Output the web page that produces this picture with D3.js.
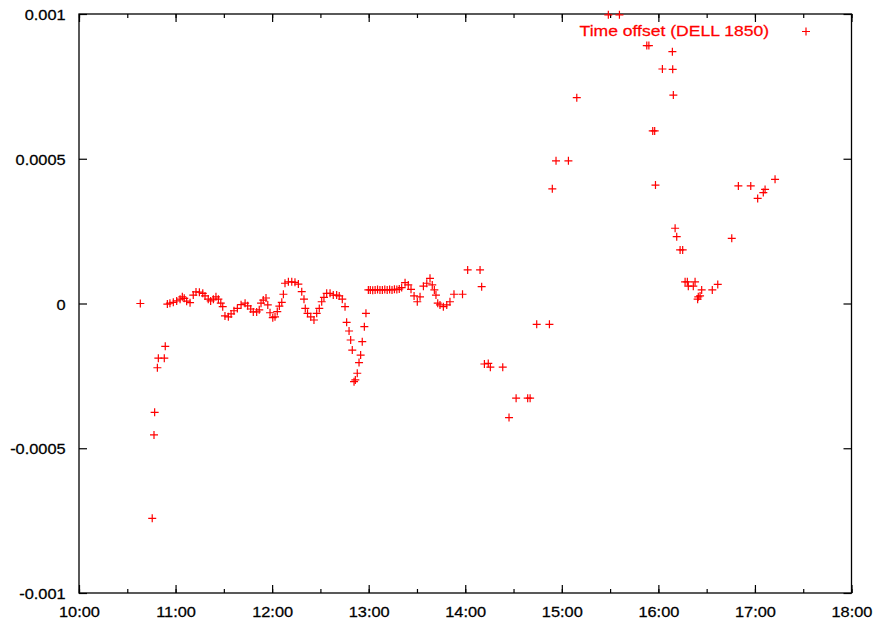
<!DOCTYPE html>
<html>
<head>
<meta charset="utf-8">
<script src="https://cdn.jsdelivr.net/npm/d3@7"></script>
<style>
  body { margin: 0; background: #fff; }
  text { font-family: "Liberation Sans", Arial, sans-serif; }
</style>
</head>
<body>
<svg id="mychart" width="878" height="626"></svg>
<script>
const margin = ({top: 14, right: 26.5, bottom: 33, left: 79})
const width = 878
const height = 626

const seriesName = "Time offset (DELL 1850)"

const times = [
  "10:38:06","10:45:30","10:46:36","10:47:00","10:48:42","10:49:18","10:53:00","10:53:36",
  "10:54:54","10:56:30","10:58:36","11:00:42","11:02:48","11:04:12","11:05:24","11:06:54",
  "11:09:00","11:11:00","11:12:42","11:14:48","11:16:54","11:18:18","11:20:18","11:21:48",
  "11:23:30","11:25:06","11:26:36","11:28:06","11:29:18","11:30:42","11:32:48","11:34:30",
  "11:36:18","11:38:24","11:40:42","11:43:12","11:44:48","11:46:42","11:48:18","11:50:24",
  "11:52:00","11:53:06","11:54:30","11:56:12","11:57:18","11:58:42","12:00:24","12:01:48",
  "12:03:12","12:04:30","12:06:00","12:07:00","12:08:00","12:10:06","12:12:12","12:14:12",
  "12:16:18","12:18:24","12:19:48","12:20:36","12:22:00","12:24:00","12:26:00","12:27:42",
  "12:29:18","12:30:48","12:32:12","12:33:54","12:36:00","12:38:00","12:40:06","12:41:42",
  "12:43:36","12:45:18","12:46:18","12:47:48","12:48:48","12:49:48","12:50:54","12:51:42",
  "12:52:54","12:54:00","12:55:00","12:56:00","12:57:18","12:58:18","12:59:48",
  "13:01:00","13:02:30","13:04:00","13:05:30","13:07:00","13:08:30","13:10:00","13:11:30",
  "13:13:00","13:14:30","13:16:00","13:17:30","13:19:00","13:20:30",
  "13:22:36","13:24:36","13:26:18","13:28:12","13:30:12","13:31:54","13:34:00","13:36:06",
  "13:38:06","13:39:30","13:40:48","13:41:48","13:42:54","13:44:18","13:46:24","13:48:30",
  "13:50:30","13:53:00","13:58:18",
  "14:01:30","14:09:12","14:10:12","14:11:54","14:14:18","14:15:36","14:23:18","14:27:12",
  "14:31:36","14:38:48","14:40:18","14:44:24","14:52:18","14:54:06","14:56:24","15:04:06",
  "15:09:18","15:28:54","15:35:48","15:52:48","15:54:06","15:56:30","15:57:42","15:58:12",
  "16:02:30","16:08:42","16:08:54","16:09:18","16:10:24","16:11:24","16:13:30","16:15:06",
  "16:16:36","16:18:00","16:18:36","16:21:42","16:22:48","16:24:24","16:24:48","16:25:54",
  "16:26:54","16:33:30","16:36:54","16:45:36","16:49:42","16:57:24","17:01:42","17:05:12",
  "17:06:18","17:12:30"
]

const offsets = [
  0.0, -0.000742, -0.000454, -0.000376, -0.000222, -0.000189, -0.000189, -0.000148,
  -0.000002, 0.000001, 0.000004, 0.000009, 0.000015, 0.000023, 0.000018, 0.000008,
  0.000003, 0.000029, 0.000040, 0.000039, 0.000035, 0.000026, 0.000015, 0.000009,
  0.000015, 0.000023, 0.000015, 0.000001, -0.000011, -0.000043, -0.000046, -0.000036,
  -0.000025, -0.000017, -0.000004, 0.000001, -0.000008, -0.000019, -0.000029, -0.000029,
  -0.000022, 0.000001, 0.000012, 0.000019, -0.000005, -0.000032, -0.000049, -0.000046,
  -0.000028, -0.000009, 0.000004, 0.000032, 0.000070, 0.000075, 0.000075, 0.000073,
  0.000067, 0.000041, 0.000015, -0.000017, -0.000034, -0.000046, -0.000057, -0.000034,
  -0.000017, 0.000006, 0.000021, 0.000035, 0.000035, 0.000029, 0.000029, 0.000026,
  0.000015, -0.000011, -0.000065, -0.000095, -0.000126, -0.000161, -0.000270, -0.000264,
  -0.000241, -0.000204, -0.000178, -0.000132, -0.000080, -0.000034, 0.000047,
  0.000047, 0.000046, 0.000047, 0.000048, 0.000047, 0.000047, 0.000048, 0.000047,
  0.000048, 0.000047, 0.000049, 0.000048, 0.000050, 0.000055,
  0.000072, 0.000064, 0.000049, 0.000026, 0.000006, 0.000023, 0.000060, 0.000070,
  0.000087, 0.000064, 0.000047, 0.000029, 0.000001, -0.000005, -0.000011, -0.000005,
  0.000006, 0.000032, 0.000032,
  0.000116, 0.000116, 0.000058, -0.000209, -0.000207, -0.000220, -0.000220, -0.000394,
  -0.000327, -0.000327, -0.000327, -0.000072, -0.000072, 0.000396, 0.000493, 0.000493,
  0.000711, 0.000997, 0.000997, 0.000891, 0.000891, 0.000596, 0.000596, 0.000409,
  0.000810, 0.000870, 0.000809, 0.000720, 0.000260, 0.000231, 0.000185, 0.000185,
  0.000075, 0.000075, 0.000060, 0.000060, 0.000075, 0.000015, 0.000023, 0.000026,
  0.000047, 0.000047, 0.000066, 0.000225, 0.000406, 0.000406, 0.000363, 0.000383,
  0.000394, 0.000429
]

const yTickValues = [-0.001, -0.0005, 0, 0.0005, 0.001]
const yTickLabels = ["-0.001", "-0.0005", "0", "0.0005", "0.001"]

const parseTime = d3.timeParse("%H:%M:%S")
const data = times.map((t, i) => ({time: parseTime(t), value: offsets[i]}))

const x = d3.scaleTime()
    .domain([parseTime("10:00:00"), parseTime("18:00:00")])
    .range([margin.left, width - margin.right])

const y = d3.scaleLinear()
    .domain([-0.001, 0.001])
    .range([height - margin.bottom, margin.top])

const stretch = 1.17
const plus = "M-4,0H4M0,-4V4"

function chart() {
    const svg = d3.select('#mychart').attr('viewBox', [0, 0, width, height])

    // minor half-hour ticks, bottom and top
    svg.append("g")
        .attr("transform", `translate(0,${y.range()[0]})`)
        .call(d3.axisBottom(x).ticks(d3.timeMinute.every(30)).tickSize(-4).tickFormat(""))
        .call(g => g.select(".domain").remove())
    svg.append("g")
        .attr("transform", `translate(0,${y.range()[1]})`)
        .call(d3.axisTop(x).ticks(d3.timeMinute.every(30)).tickSize(-4).tickFormat(""))
        .call(g => g.select(".domain").remove())

    // major ticks + labels
    svg.append("g")
        .attr("transform", `translate(0,${y.range()[0]})`)
        .call(d3.axisBottom(x).ticks(d3.timeHour.every(1)).tickSize(-8).tickPadding(14)
            .tickFormat(d3.timeFormat("%H:%M")))
        .call(g => g.select(".domain").remove())
        .call(g => g.selectAll("text").attr("transform", `scale(${stretch},1)`))
    svg.append("g")
        .attr("transform", `translate(0,${y.range()[1]})`)
        .call(d3.axisTop(x).ticks(d3.timeHour.every(1)).tickSize(-8).tickFormat(""))
        .call(g => g.select(".domain").remove())

    svg.append("g")
        .attr("transform", `translate(${x.range()[0]},0)`)
        .call(d3.axisLeft(y).tickValues(yTickValues).tickSize(-8).tickPadding(11.4)
            .tickFormat((d, i) => yTickLabels[i]))
        .call(g => g.select(".domain").remove())
        .call(g => g.selectAll("text").attr("transform", `scale(${stretch},1)`).attr("dy", "0.4em"))
    svg.append("g")
        .attr("transform", `translate(${x.range()[1]},0)`)
        .call(d3.axisRight(y).tickValues(yTickValues).tickSize(-8).tickFormat(""))
        .call(g => g.select(".domain").remove())

    svg.selectAll(".tick line").attr("stroke", "#000").attr("stroke-width", 1.2)
    svg.selectAll(".tick text")
        .attr("font-size", 14)
        .attr("font-family", "Liberation Sans, Arial, sans-serif")
        .attr("fill", "#000")
        .attr("stroke", "#000")
        .attr("stroke-width", 0.25)

    // frame
    svg.append("rect")
        .attr("x", x.range()[0])
        .attr("y", y.range()[1])
        .attr("width", x.range()[1] - x.range()[0])
        .attr("height", y.range()[0] - y.range()[1])
        .attr("fill", "none")
        .attr("stroke", "#000")
        .attr("stroke-width", 1.3)

    // points
    svg.append("g")
        .attr("fill", "none")
        .attr("stroke", "#ff0000")
        .attr("stroke-width", 1.2)
        .selectAll("path")
        .data(data)
        .join("path")
        .attr("transform", d => `translate(${x(d.time)},${y(d.value)})`)
        .attr("d", plus)

    // legend
    svg.append("text")
        .attr("transform", `translate(769,36) scale(${stretch},1)`)
        .attr("text-anchor", "end")
        .attr("font-size", 15)
        .attr("fill", "#ff0000")
        .attr("stroke", "#ff0000")
        .attr("stroke-width", 0.25)
        .text(seriesName)
    svg.append("path")
        .attr("transform", "translate(806,31.5)")
        .attr("d", plus)
        .attr("fill", "none")
        .attr("stroke", "#ff0000")
        .attr("stroke-width", 1.2)

    return svg.node()
}

chart()
</script>
</body>
</html>
